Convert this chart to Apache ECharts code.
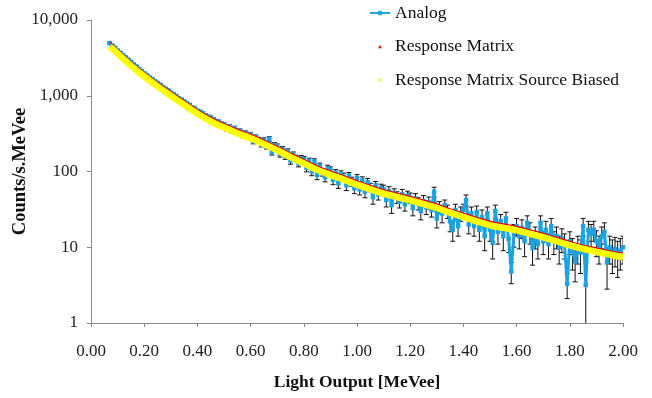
<!DOCTYPE html>
<html>
<head>
<meta charset="utf-8">
<script src="https://cdn.jsdelivr.net/npm/echarts@6.0.0/dist/echarts.min.js"></script>
<style>
  html, body { margin: 0; padding: 0; background: #fff; }
  #main { width: 652px; height: 398px; }
</style>
</head>
<body>
<div id="main"></div>
<script>
// Analog spectrum: one bin every 0.01 MeVee starting at 0.07
var analogStart = 0.07;
var analogStep = 0.01;
var analogY = [
  4950, 4600, 4300,
  3950, 3700, 3430, 3220, 2990, 2800, 2600, 2440, 2260, 2130,
  1980, 1870, 1740, 1660, 1550, 1480, 1400, 1300, 1240, 1180,
  1100, 1050, 990, 930, 890, 840, 790, 760, 700, 680,
  635, 615, 585, 550, 530, 515, 490, 465, 455, 430,
  420, 365, 395, 340, 375, 330, 345, 300, 325, 290,
  310, 250, 285, 265, 228, 262, 215, 270, 180, 225,
  215, 170, 198, 160, 185, 140, 168, 150, 128, 150,
  145, 112, 138, 100, 135, 90, 118, 98, 84, 110,
  105, 78, 96, 70, 92, 85, 66, 88, 74, 60,
  82, 58, 76, 54, 72, 62, 46, 66, 50, 60,
  58, 42, 55, 36, 52, 46, 40, 50, 37, 48,
  45, 33, 44, 38, 30, 41, 34, 39, 31, 54,
  24, 34, 28, 36, 30, 22, 17, 31, 19, 28,
  31, 42, 20, 28, 19, 29, 17, 25, 14, 28,
  17, 11.5, 30, 16, 22, 14, 24, 13, 4.8, 15,
  19, 14, 18, 12, 21, 16, 9.8, 14, 11, 21,
  12, 17, 11, 19, 12, 14, 10, 13, 11, 3.3,
  12, 9, 6.5, 10, 8.5, 19, 3.2, 17, 15, 17,
  12, 10, 14, 16, 6.3, 10, 8.5, 9.5, 8, 9,
  10
];
var analogErr = [
  120, 110, 100,
  95, 90, 85, 80, 75, 70, 68, 65, 62, 60,
  58, 55, 52, 50, 48, 47, 45, 42, 41, 40,
  38, 37, 36, 34, 33, 32, 31, 30, 28, 27,
  26, 26, 25, 24, 23, 23, 22, 21, 20, 20,
  22, 21, 21, 21, 20, 20, 19, 20, 19, 19,
  19, 18, 18, 18, 17, 17, 17, 18, 15, 16,
  16, 15, 15, 15, 14, 15, 13, 14, 13, 13,
  13, 13, 12, 12, 12, 12, 11, 11, 11, 11,
  10, 11, 10, 10, 10, 10, 10, 9, 10, 9,
  9, 9, 9, 9, 9, 8, 9, 8, 8, 8,
  8, 8, 8, 8, 7, 8, 7, 8, 7, 7,
  7, 7, 7, 7, 7, 7, 7, 7, 6, 8,
  6, 6, 7, 6, 6, 6, 5, 6, 5, 6,
  6, 7, 5, 6, 5, 6, 5, 6, 5, 6,
  5, 4.5, 6, 5, 5, 5, 5, 4.5, 1.5, 5,
  5, 4.5, 5, 4.5, 5, 5, 4, 4.5, 4, 5,
  4, 5, 4, 5, 4, 4.5, 4, 4.5, 4, 1.2,
  4, 4, 3, 4, 4, 5, 3, 5, 5, 5,
  4.5, 4, 4.5, 5, 3.5, 4, 4, 4, 4, 4,
  4
];

// calculated spectra
var modelX = [0.07, 0.10, 0.15, 0.20, 0.25, 0.30, 0.35, 0.40, 0.45, 0.50,
  0.55, 0.60, 0.65, 0.70, 0.75, 0.80, 0.85, 0.90, 0.95, 1.00,
  1.05, 1.10, 1.15, 1.20, 1.25, 1.30, 1.35, 1.40, 1.45, 1.50,
  1.55, 1.60, 1.65, 1.70, 1.75, 1.80, 1.85, 1.90, 1.95, 2.00];
var responseY = [5085, 4068, 2825, 2034, 1503, 1130, 859, 655, 520, 429,
  362, 311, 260, 215, 175, 145, 119, 102, 88, 75.7,
  65.5, 57.6, 52, 46.9, 41.8, 37.3, 32.2, 28.3, 24.9, 22,
  20.3, 18.9, 17, 15.3, 13.6, 12, 10.7, 9.8, 9, 8.4];
var biasedY = [4500, 3600, 2500, 1800, 1330, 1000, 760, 580, 460, 380,
  320, 275, 230, 190, 155, 128, 105, 90, 78, 67,
  58, 51, 46, 41.5, 37, 33, 28.5, 25, 22, 19.5,
  18, 16.7, 15, 13.5, 12, 10.6, 9.5, 8.7, 8, 7.4];

var xTicks = [0, 2, 0.2];
var yTicks = [1, 10000];

var font = "'Liberation Serif', 'Times New Roman', serif";

var analogData = [], errData = [];
for (var i = 0; i < analogY.length; i++) {
  var x = +(analogStart + i * analogStep).toFixed(2);
  analogData.push([x, analogY[i]]);
  errData.push([x, analogY[i] - analogErr[i], analogY[i] + analogErr[i]]);
}
var responseData = modelX.map(function (x, i) { return [x, responseY[i]]; });
var biasedData = modelX.map(function (x, i) { return [x, biasedY[i]]; });

var myChart = echarts.init(document.getElementById('main'));

var option = {
  animation: false,
  backgroundColor: '#fff',
  textStyle: { fontFamily: font },
  grid: { left: 91, right: 29, top: 20, bottom: 75, containLabel: false, outerBoundsMode: 'none' },
  legend: {
    orient: 'vertical',
    left: 370,
    top: 4,
    padding: 0,
    itemWidth: 20,
    itemHeight: 14,
    itemGap: 15.5,
    symbolKeepAspect: true,
    textStyle: { fontFamily: font, fontSize: 17.5, color: '#111' },
    data: [
      { name: 'Analog', icon: 'path://M0,6 L22,6 L22,8 L0,8 Z M9,4.5 L13,4.5 L13,9.5 L9,9.5 Z' },
      { name: 'Response Matrix', icon: 'path://M0,0 M22,14 M9,9 L13,9 L11,5 Z' },
      { name: 'Response Matrix Source Biased', icon: 'path://M0,0 M22,14 M11,5 L13,7 L11,9 L9,7 Z' }
    ]
  },
  xAxis: {
    type: 'value',
    min: xTicks[0],
    max: xTicks[1],
    interval: xTicks[2],
    name: 'Light Output [MeVee]',
    nameLocation: 'middle',
    nameGap: 50,
    nameMoveOverlap: false,
    nameTextStyle: { fontFamily: font, fontSize: 17.5, fontWeight: 'bold', color: '#111' },
    axisLine: { lineStyle: { color: '#888', width: 1 } },
    axisTick: { show: true, inside: false, length: 4, lineStyle: { color: '#888' } },
    axisLabel: {
      margin: 20, fontFamily: font, fontSize: 17, color: '#222',
      formatter: function (v) { return v.toFixed(2); }
    },
    splitLine: { show: false }
  },
  yAxis: {
    type: 'log',
    logBase: 10,
    min: yTicks[0],
    max: yTicks[1],
    name: 'Counts/s.MeVee',
    nameLocation: 'middle',
    nameGap: 61,
    nameMoveOverlap: false,
    nameTextStyle: { fontFamily: font, fontSize: 18.5, fontWeight: 'bold', color: '#111' },
    axisLine: { show: true, lineStyle: { color: '#888', width: 1 } },
    axisTick: { show: true, inside: false, length: 4, lineStyle: { color: '#888' } },
    axisLabel: {
      margin: 13, fontFamily: font, fontSize: 17, color: '#222',
      formatter: function (v) { return Math.round(v).toLocaleString('en-US'); }
    },
    minorTick: { show: false },
    splitLine: { show: false }
  },
  series: [
    {
      name: 'err',
      type: 'custom',
      clip: true,
      z: 1,
      silent: true,
      encode: { x: 0, y: [1, 2] },
      data: errData,
      renderItem: function (params, api) {
        var top = api.coord([api.value(0), api.value(2)]);
        var bot = api.coord([api.value(0), api.value(1)]);
        var hw = 2.5;
        var st = { stroke: '#111', lineWidth: 1 };
        return {
          type: 'group',
          children: [
            { type: 'line', shape: { x1: top[0], y1: top[1], x2: bot[0], y2: bot[1] }, style: st },
            { type: 'line', shape: { x1: top[0] - hw, y1: top[1], x2: top[0] + hw, y2: top[1] }, style: st },
            { type: 'line', shape: { x1: bot[0] - hw, y1: bot[1], x2: bot[0] + hw, y2: bot[1] }, style: st }
          ]
        };
      }
    },
    {
      name: 'Analog',
      type: 'line',
      z: 2,
      data: analogData,
      color: '#1AA3E0',
      symbol: 'rect',
      symbolSize: 4.5,
      showSymbol: true,
      lineStyle: { width: 3, color: '#1AA3E0' },
      itemStyle: { color: '#1AA3E0' }
    },
    {
      name: 'Response Matrix',
      type: 'line',
      z: 3,
      data: responseData,
      color: '#FF0000',
      smooth: 0.3,
      showSymbol: false,
      lineStyle: { width: 1.2, color: '#FF0000' },
      itemStyle: { color: '#FF0000' }
    },
    {
      name: 'Response Matrix Source Biased',
      type: 'line',
      z: 4,
      data: biasedData,
      color: '#FFFF00',
      smooth: 0.3,
      showSymbol: false,
      lineStyle: { width: 6.5, color: '#FFFF00' },
      itemStyle: { color: '#FFFF00' }
    }
  ]
};

myChart.setOption(option);
</script>
</body>
</html>
